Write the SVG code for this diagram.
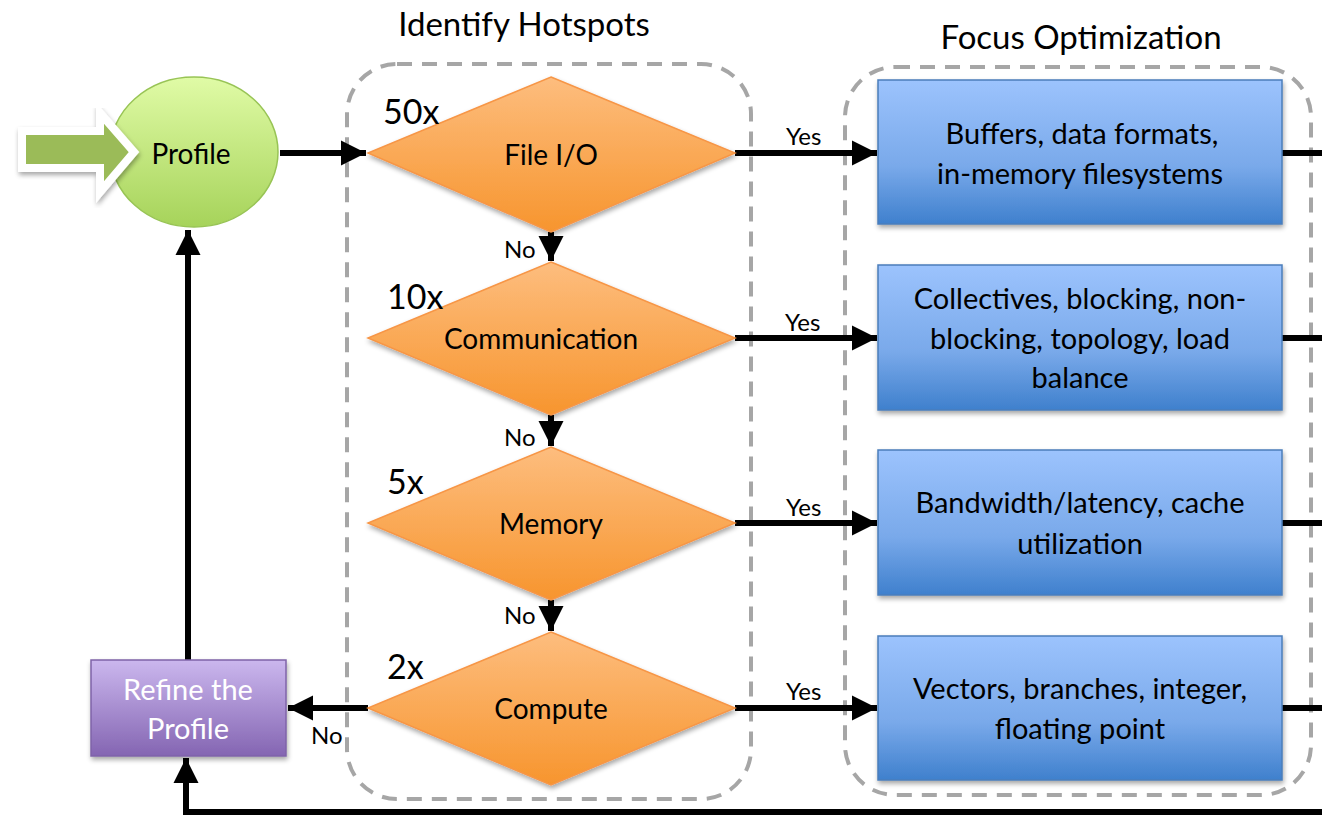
<svg xmlns="http://www.w3.org/2000/svg" width="1322" height="819" viewBox="0 0 1322 819">
  <defs>
    <linearGradient id="gGreen" x1="0" y1="0" x2="0" y2="1">
      <stop offset="0" stop-color="#e0fba6"/>
      <stop offset="1" stop-color="#a6d35a"/>
    </linearGradient>
    <linearGradient id="gOrange" x1="0" y1="0" x2="0" y2="1">
      <stop offset="0" stop-color="#fdbd7e"/>
      <stop offset="1" stop-color="#f7952e"/>
    </linearGradient>
    <linearGradient id="gBlue" x1="0" y1="0" x2="0" y2="1">
      <stop offset="0" stop-color="#9cc3fd"/>
      <stop offset="0.6" stop-color="#79a9ea"/>
      <stop offset="1" stop-color="#3f80cd"/>
    </linearGradient>
    <linearGradient id="gPurple" x1="0" y1="0" x2="0" y2="1">
      <stop offset="0" stop-color="#cbb7ee"/>
      <stop offset="1" stop-color="#8465b2"/>
    </linearGradient>
    <filter id="shadow" x="-10%" y="-10%" width="125%" height="130%">
      <feGaussianBlur in="SourceAlpha" stdDeviation="2.5"/>
      <feOffset dx="1" dy="3" result="b"/>
      <feComponentTransfer><feFuncA type="linear" slope="0.35"/></feComponentTransfer>
      <feMerge><feMergeNode/><feMergeNode in="SourceGraphic"/></feMerge>
    </filter>
    <marker id="arrow" viewBox="0 0 10 10" refX="10" refY="5" markerWidth="4.2" markerHeight="4.2" markerUnits="strokeWidth" orient="auto">
      <path d="M0,0 L10,5 L0,10 Z" fill="#000"/>
    </marker>
  </defs>
  <style>
    text { font-family: "Lato", "Open Sans", "Liberation Sans", sans-serif; fill: #000; }
    .title { font-size: 33px; text-anchor: middle; }
    .lbl { font-size: 28px; text-anchor: middle; dominant-baseline: central; }
    .box { font-size: 29px; text-anchor: middle; }
    .mult { font-size: 34px; }
    .small { font-size: 24px; }
    .frame { fill: none; stroke: #a6a6a6; stroke-width: 4; stroke-dasharray: 15 10; }
    .conn { fill: none; stroke: #000; stroke-width: 6; }
    .dia { fill: url(#gOrange); stroke: #f79646; stroke-width: 1.5; filter: url(#shadow); }
    .opt { fill: url(#gBlue); stroke: #4a7ebb; stroke-width: 1.5; filter: url(#shadow); }
  </style>

  <rect width="1322" height="819" fill="#fff"/>

  <!-- group frames and their titles -->
  <g id="frame-hotspots">
    <rect class="frame" x="347" y="64" width="404" height="735" rx="50"/>
    <text class="title" x="524" y="36">Identify Hotspots</text>
  </g>
  <g id="frame-focus">
    <rect class="frame" x="845" y="67" width="466" height="728" rx="50"/>
    <text class="title" x="1081" y="49">Focus Optimization</text>
  </g>

  <!-- connectors -->
  <g id="connectors">
    <line class="conn" x1="280" y1="153" x2="366" y2="153" marker-end="url(#arrow)"/>
    <line class="conn" x1="551" y1="232" x2="551" y2="261" marker-end="url(#arrow)"/>
    <line class="conn" x1="551" y1="415" x2="551" y2="446" marker-end="url(#arrow)"/>
    <line class="conn" x1="551" y1="600" x2="551" y2="631" marker-end="url(#arrow)"/>
    <line class="conn" x1="735" y1="153" x2="877" y2="153" marker-end="url(#arrow)"/>
    <line class="conn" x1="735" y1="338" x2="877" y2="338" marker-end="url(#arrow)"/>
    <line class="conn" x1="735" y1="523" x2="877" y2="523" marker-end="url(#arrow)"/>
    <line class="conn" x1="735" y1="708" x2="877" y2="708" marker-end="url(#arrow)"/>
    <line class="conn" x1="368" y1="708" x2="288" y2="708" marker-end="url(#arrow)"/>
    <line class="conn" x1="1282" y1="153" x2="1322" y2="153"/>
    <line class="conn" x1="1282" y1="338" x2="1322" y2="338"/>
    <line class="conn" x1="1282" y1="523" x2="1322" y2="523"/>
    <line class="conn" x1="1282" y1="708" x2="1322" y2="708"/>
    <polyline class="conn" points="1322,812 186,812 186,758" marker-end="url(#arrow)"/>
    <line class="conn" x1="188" y1="660" x2="188" y2="230" marker-end="url(#arrow)"/>
    <text class="small" x="786" y="145">Yes</text>
    <text class="small" x="785" y="331">Yes</text>
    <text class="small" x="786" y="516">Yes</text>
    <text class="small" x="786" y="700">Yes</text>
    <text class="small" x="504" y="258">No</text>
    <text class="small" x="504" y="446">No</text>
    <text class="small" x="504" y="624">No</text>
    <text class="small" x="311" y="744">No</text>
  </g>

  <g id="node-profile">
    <ellipse cx="194" cy="152" rx="84" ry="75" fill="url(#gGreen)" stroke="#98c455" stroke-width="1.5"/>
    <text class="lbl" x="191" y="153">Profile</text>
  </g>

  <!-- entry arrow, drawn over the ellipse edge -->
  <g id="start-arrow">
    <polygon points="22,131 100,131 100,113 134,152 100,192 100,168 22,168" fill="#9bbb59" stroke="#fff" stroke-width="8" stroke-linejoin="miter" filter="url(#shadow)"/>
  </g>

  <g id="node-fileio">
    <polygon class="dia" points="551,77 735,153 551,232 368,153"/>
    <text class="lbl" x="551" y="154">File I/O</text>
    <text class="mult" x="383" y="124">50x</text>
  </g>
  <g id="node-communication">
    <polygon class="dia" points="551,262 735,338 551,415 368,338"/>
    <text class="lbl" x="541" y="338">Communication</text>
    <text class="mult" x="387" y="309">10x</text>
  </g>
  <g id="node-memory">
    <polygon class="dia" points="551,447 735,523 551,600 368,523"/>
    <text class="lbl" x="551" y="523">Memory</text>
    <text class="mult" x="387" y="494">5x</text>
  </g>
  <g id="node-compute">
    <polygon class="dia" points="551,632 735,708 551,785 368,708"/>
    <text class="lbl" x="551" y="708">Compute</text>
    <text class="mult" x="387" y="679">2x</text>
  </g>

  <g id="node-buffers">
    <rect class="opt" x="878" y="80" width="404" height="144"/>
    <text class="box" x="1082" y="144">Buffers, data formats,</text>
    <text class="box" x="1080" y="184">in-memory filesystems</text>
  </g>
  <g id="node-collectives">
    <rect class="opt" x="878" y="265" width="404" height="145"/>
    <text class="box" x="1080" y="309">Collectives, blocking, non-</text>
    <text class="box" x="1080" y="349">blocking, topology, load</text>
    <text class="box" x="1080" y="388">balance</text>
  </g>
  <g id="node-bandwidth">
    <rect class="opt" x="878" y="450" width="404" height="145"/>
    <text class="box" x="1080" y="513">Bandwidth/latency, cache</text>
    <text class="box" x="1080" y="554">utilization</text>
  </g>
  <g id="node-vectors">
    <rect class="opt" x="878" y="636" width="404" height="144"/>
    <text class="box" x="1080" y="699">Vectors, branches, integer,</text>
    <text class="box" x="1080" y="739">floating point</text>
  </g>

  <g id="node-refine">
    <rect x="91" y="660" width="195" height="96" fill="url(#gPurple)" stroke="#7f63a8" stroke-width="1.5" filter="url(#shadow)"/>
    <text class="box" x="188" y="700" style="fill:#fff">Refine the</text>
    <text class="box" x="188" y="739" style="fill:#fff">Profile</text>
  </g>
</svg>
